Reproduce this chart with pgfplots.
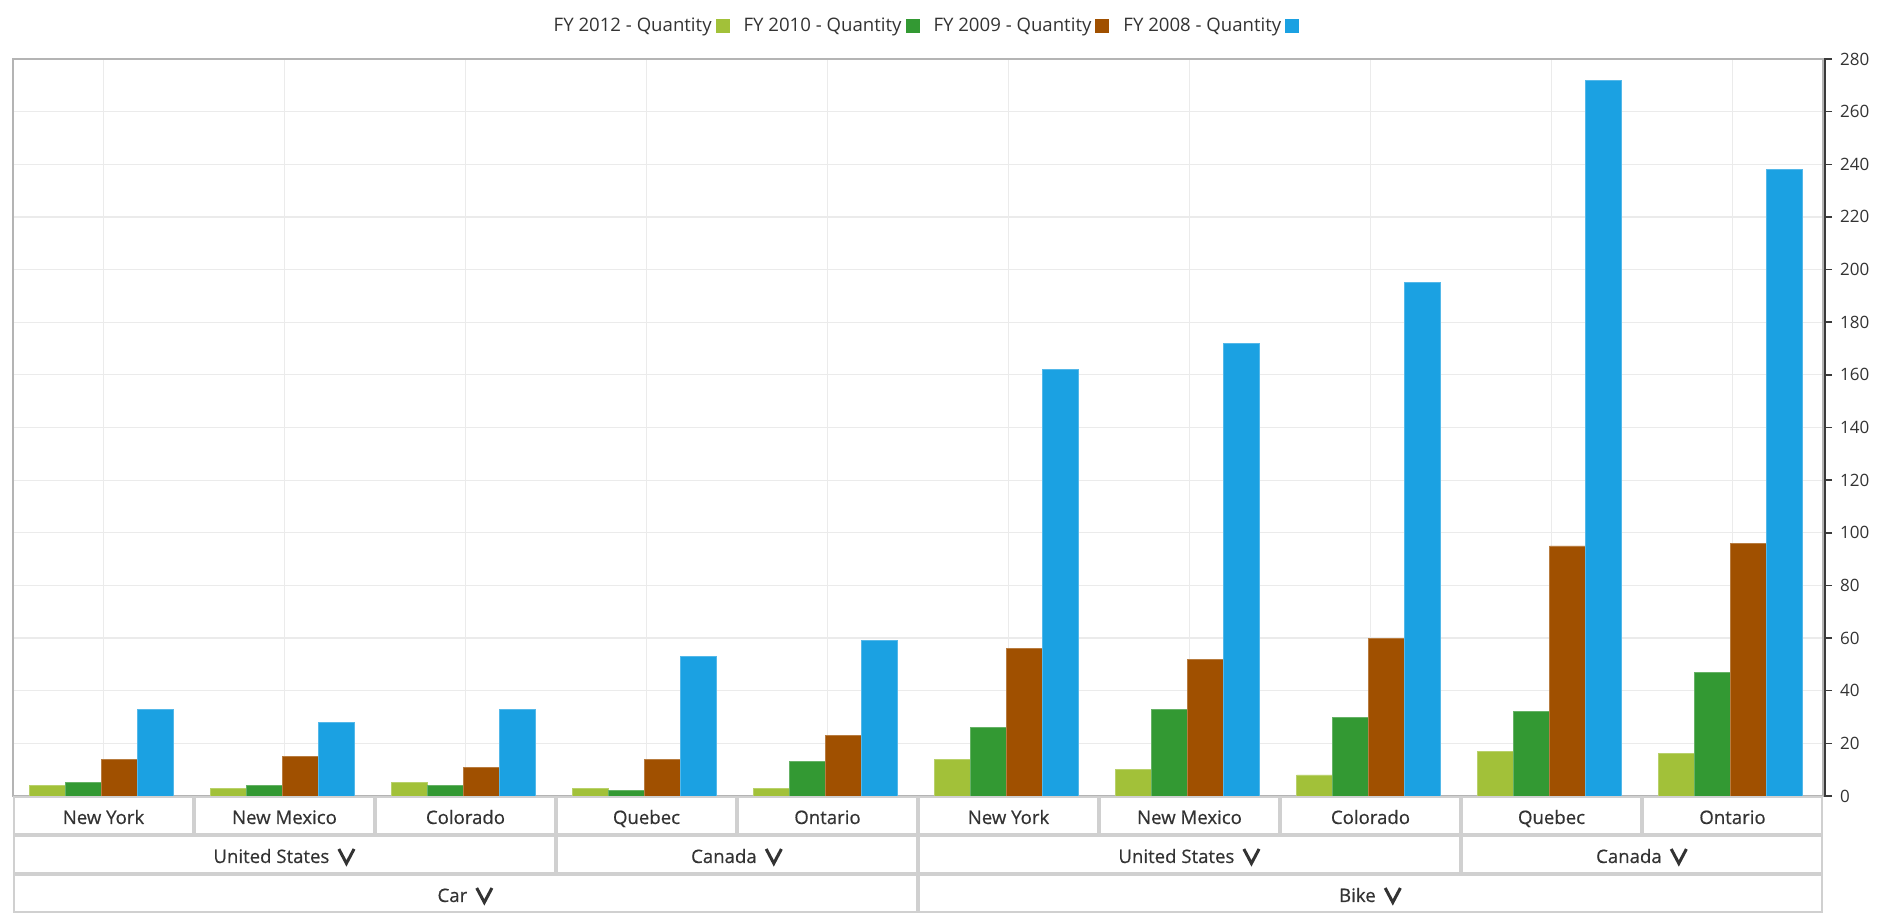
\documentclass[border=0pt]{standalone}
\usepackage{fontspec}
\setmainfont{Open Sans}
\newfontfamily\labsemi[FakeBold=0.5]{Open Sans}
\usepackage{pgfplots}
\pgfplotsset{compat=1.18}

\definecolor{cLime}{HTML}{A2C139}
\definecolor{cGreen}{HTML}{339933}
\definecolor{cBrown}{HTML}{A05000}
\definecolor{cBlue}{HTML}{1BA1E2}
\definecolor{gridgray}{HTML}{EBEBEB}
\definecolor{framegray}{HTML}{B4B4B4}
\definecolor{cellgray}{HTML}{D0D0D0}
\definecolor{axisdark}{HTML}{3A3A3A}
\definecolor{txt}{HTML}{333333}

% quantities per product / country / state
\pgfplotstableread{
x fy2012 fy2010 fy2009 fy2008
0  4  5  14  33
1  3  4  15  28
2  5  4  11  33
3  3  2  14  53
4  3 13  23  59
5 14 26  56 162
6 10 33  52 172
7  8 30  60 195
8 17 32  95 272
9 16 47  96 238
}\qtytable

\newcommand{\labfont}{\fontsize{9.3}{11}\selectfont}
\newsavebox{\chevbox}
\newcommand{\chev}{\usebox{\chevbox}}
% one header cell below the axis: left, right, centre, row, text
\newcommand{\cell}[5]{%
  \draw[cellgray,line width=1pt]
    ([xshift=0.5pt,yshift={-0.5pt-19.5pt*#4}]axis cs:#1,0) rectangle
    ([xshift=-0.5pt,yshift={-19pt-19.5pt*#4}]axis cs:#2,0);
  \node[txt,font=\labfont\labsemi,anchor=base,inner sep=0pt]
    at ([yshift={-14pt-19.5pt*#4}]axis cs:#3,0) {#5};
}

\begin{document}%
\sbox{\chevbox}{\tikz[baseline=0pt]\draw[txt,line width=1.5pt,line join=miter]
  (0,7pt)--(3.8pt,-0.2pt)--(7.6pt,7pt);}%
\begin{tikzpicture}
\useasboundingbox (0,0) rectangle (938.5pt,462pt);
\begin{axis}[
  at={(6.5pt,64pt)}, anchor=south west,
  scale only axis, width=905pt, height=368.5pt,
  xmin=-0.5, xmax=9.5, ymin=0, ymax=280,
  clip=false,
  ybar=0pt, bar width=18pt,
  xtick={0,...,9}, xticklabels={},
  major x tick style={draw=none},
  ytick={0,20,...,280},
  ytick pos=right, yticklabel pos=right,
  tick align=outside, major tick length=4.5pt,
  major y tick style={axisdark,line width=0.75pt},
  /pgf/number format/assume math mode=true,
  yticklabel style={font=\fontsize{8.5}{10}\selectfont, text=txt, xshift=0.5pt},
  xmajorgrids, ymajorgrids,
  grid style={gridgray,line width=0.6pt},
  axis line style={framegray,line width=1pt},
  legend plot pos=right,
  legend columns=4,
  legend style={draw=none, fill=none, font=\labfont, text=txt,
    at={(0.5036,1.0447)}, anchor=center,
    /tikz/every even column/.append style={column sep=5pt}},
  legend image code/.code={\fill[#1,draw=none] (0pt,-3.5pt) rectangle (7pt,3.5pt);},
]
\addplot[fill=cLime, draw=cLime!75!white, line width=0.4pt, bar shift=-28pt]
  table[x=x,y=fy2012]{\qtytable};
\addplot[fill=cGreen, draw=cGreen!75!white, line width=0.4pt, bar shift=-10pt]
  table[x=x,y=fy2010]{\qtytable};
\addplot[fill=cBrown, draw=cBrown!75!white, line width=0.4pt, bar shift=8pt]
  table[x=x,y=fy2009]{\qtytable};
\addplot[fill=cBlue, draw=cBlue!75!white, line width=0.4pt, bar shift=26pt]
  table[x=x,y=fy2008]{\qtytable};
\legend{FY 2012 - Quantity, FY 2010 - Quantity, FY 2009 - Quantity, FY 2008 - Quantity}

% dark value axis line on the right
\draw[axisdark,line width=1pt] ([xshift=1.2pt]rel axis cs:1,0) -- ([xshift=1.2pt]rel axis cs:1,1);

% state row
\cell{-0.5}{0.5}{0}{0}{New York}
\cell{0.5}{1.5}{1}{0}{New Mexico}
\cell{1.5}{2.5}{2}{0}{Colorado}
\cell{2.5}{3.5}{3}{0}{Quebec}
\cell{3.5}{4.5}{4}{0}{Ontario}
\cell{4.5}{5.5}{5}{0}{New York}
\cell{5.5}{6.5}{6}{0}{New Mexico}
\cell{6.5}{7.5}{7}{0}{Colorado}
\cell{7.5}{8.5}{8}{0}{Quebec}
\cell{8.5}{9.5}{9}{0}{Ontario}
% country row
\cell{-0.5}{2.5}{1}{1}{United States\hspace{4pt}\chev}
\cell{2.5}{4.5}{3.5}{1}{Canada\hspace{4pt}\chev}
\cell{4.5}{7.5}{6}{1}{United States\hspace{4pt}\chev}
\cell{7.5}{9.5}{8.5}{1}{Canada\hspace{4pt}\chev}
% product row
\cell{-0.5}{4.5}{2}{2}{Car\hspace{4pt}\chev}
\cell{4.5}{9.5}{7}{2}{Bike\hspace{4pt}\chev}
\end{axis}
\end{tikzpicture}%
\end{document}
